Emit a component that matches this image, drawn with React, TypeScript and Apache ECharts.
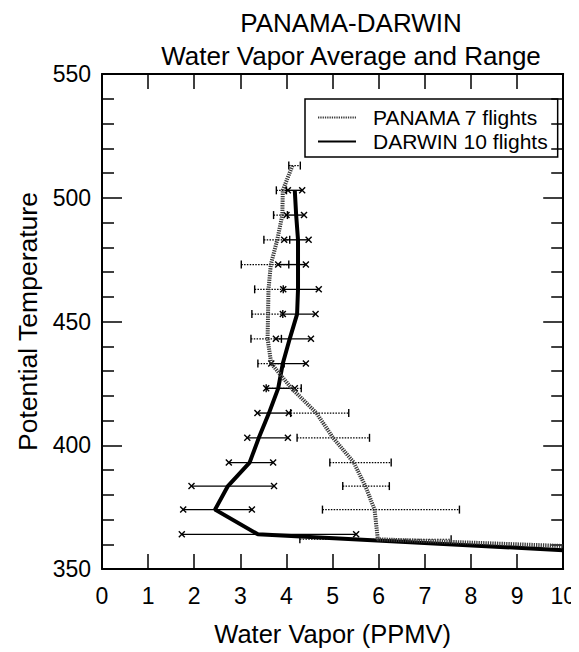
import React, { useEffect, useRef } from "react";
import * as echarts from "echarts";

const FONT = "Liberation Sans, Arial, Helvetica, sans-serif";

// Axis setup
const xTicks = [0, 10];
const yRange = [350, 550];

// DARWIN (10 flights): potential temperature levels, mean, min, max water vapor (ppmv)
const thetaDarwin = [503, 493, 483, 473, 463, 453, 443, 433, 423, 413, 403, 393, 383.5, 374, 364, 357.6];
const darwinMean = [4.18, 4.21, 4.25, 4.25, 4.25, 4.23, 4.07, 3.92, 3.82, 3.62, 3.4, 3.2, 2.73, 2.45, 3.38, 10];
const darwinLow = [4.03, 4.0, 3.95, 3.82, 3.93, 3.92, 3.77, 3.67, 3.56, 3.37, 3.15, 2.75, 1.94, 1.76, 1.73];
const darwinHigh = [4.34, 4.38, 4.48, 4.42, 4.7, 4.63, 4.53, 4.42, 4.18, 4.05, 4.03, 3.71, 3.73, 3.25, 5.51];

// PANAMA (7 flights)
const thetaPanama = [513, 503, 493, 483, 473, 463, 453, 443, 433, 423, 413, 403, 393, 383.5, 374, 362, 359.3];
const panamaMean = [4.13, 3.92, 3.91, 3.8, 3.66, 3.61, 3.6, 3.59, 3.67, 4.11, 4.65, 5.01, 5.46, 5.71, 5.91, 5.98, 10];
const panamaLow = [4.05, 3.78, 3.72, 3.51, 3.02, 3.31, 3.25, 3.23, 3.38, 3.56, 4.09, 4.23, 4.94, 5.22, 4.78, 4.29];
const panamaHigh = [4.3, 4.0, 4.02, 4.07, 4.05, 3.93, 3.92, 3.89, 3.95, 4.32, 5.35, 5.8, 6.27, 6.23, 7.75, 7.57];

const PANAMA = "PANAMA 7 flights";
const DARWIN = "DARWIN 10 flights";

function makeBarRenderer(kind: "darwin" | "panama") {
  return (params: any, api: any) => {
    const lo = api.coord([api.value(0), api.value(2)]);
    const hi = api.coord([api.value(1), api.value(2)]);
    const children: any[] = [
      {
        type: "line",
        shape: { x1: lo[0], y1: lo[1], x2: hi[0], y2: hi[1] },
        style: {
          stroke: "#000",
          lineWidth: kind === "darwin" ? 1.4 : 1.1,
          lineDash: kind === "darwin" ? null : [1.5, 1.3],
        },
      },
    ];
    [lo, hi].forEach((p) => {
      if (kind === "darwin") {
        const s = 3;
        children.push({
          type: "line",
          shape: { x1: p[0] - s, y1: p[1] - s, x2: p[0] + s, y2: p[1] + s },
          style: { stroke: "#000", lineWidth: 1.4 },
        });
        children.push({
          type: "line",
          shape: { x1: p[0] - s, y1: p[1] + s, x2: p[0] + s, y2: p[1] - s },
          style: { stroke: "#000", lineWidth: 1.4 },
        });
      } else {
        children.push({
          type: "line",
          shape: { x1: p[0], y1: p[1] - 4, x2: p[0], y2: p[1] + 4 },
          style: { stroke: "#000", lineWidth: 1.4 },
        });
      }
    });
    return { type: "group", children };
  };
}

export default function App() {
  const ref = useRef<HTMLDivElement>(null);

  useEffect(() => {
    if (!ref.current) return;
    const chart = echarts.init(ref.current, undefined, { renderer: "svg" });

    const darwinLine = thetaDarwin.map((t, i) => [darwinMean[i], t]);
    const panamaLine = thetaPanama.map((t, i) => [panamaMean[i], t]);
    const darwinBars = darwinLow.map((lo, i) => [lo, darwinHigh[i], thetaDarwin[i]]);
    const panamaBars = panamaLow.map((lo, i) => [lo, panamaHigh[i], thetaPanama[i]]);

    const axisLine = { show: true, onZero: false, lineStyle: { color: "#000", width: 2 } };
    const tickStyle = { color: "#000", width: 1.5 };

    const option: any = {
      animation: false,
      backgroundColor: "#fff",
      title: {
        text: "PANAMA-DARWIN\nWater Vapor Average and Range",
        left: 351,
        top: 6,
        padding: 0,
        textAlign: "center",
        textStyle: {
          fontFamily: FONT,
          fontSize: 26,
          fontWeight: "normal",
          color: "#000",
          lineHeight: 33,
        },
      },
      legend: {
        data: [PANAMA, DARWIN],
        orient: "vertical",
        left: 305,
        top: 99,
        padding: [8, 10, 5, 12],
        itemGap: 3,
        itemWidth: 38,
        itemHeight: 14,
        borderColor: "#000",
        borderWidth: 1.5,
        selectedMode: false,
        itemStyle: { color: "rgba(0,0,0,0)", borderColor: "rgba(0,0,0,0)", borderWidth: 0, opacity: 0 },
        textStyle: {
          fontFamily: FONT,
          fontSize: 21,
          color: "#000",
          padding: [0, 0, 0, 12],
        },
      },
      grid: { left: 102, right: 14, top: 74, bottom: 81, containLabel: false },
      xAxis: [
        {
          type: "value",
          min: xTicks[0],
          max: xTicks[1],
          interval: 1,
          position: "bottom",
          axisLine,
          axisTick: { show: true, inside: true, length: 15, lineStyle: tickStyle },
          axisLabel: { margin: 15, fontSize: 23, color: "#000", fontFamily: FONT },
          splitLine: { show: false },
          name: "Water Vapor (PPMV)",
          nameLocation: "middle",
          nameGap: 52,
          nameTextStyle: { fontSize: 25.5, color: "#000", fontFamily: FONT },
        },
        {
          type: "value",
          min: xTicks[0],
          max: xTicks[1],
          interval: 1,
          position: "top",
          axisLine,
          axisTick: { show: true, inside: true, length: 15, lineStyle: tickStyle },
          axisLabel: { show: false },
          splitLine: { show: false },
        },
      ],
      yAxis: [
        {
          type: "value",
          min: yRange[0],
          max: yRange[1],
          interval: 50,
          position: "left",
          axisLine,
          axisTick: { show: true, inside: true, length: 20, lineStyle: tickStyle },
          minorTick: { show: true, splitNumber: 5, length: 12, lineStyle: tickStyle },
          axisLabel: { margin: 11, fontSize: 23, color: "#000", fontFamily: FONT },
          splitLine: { show: false },
          name: "Potential Temperature",
          nameLocation: "middle",
          nameGap: 60,
          nameTextStyle: { fontSize: 26.5, color: "#000", fontFamily: FONT },
        },
        {
          type: "value",
          min: yRange[0],
          max: yRange[1],
          interval: 50,
          position: "right",
          axisLine,
          axisTick: { show: true, inside: true, length: 20, lineStyle: tickStyle },
          minorTick: { show: true, splitNumber: 5, length: 12, lineStyle: tickStyle },
          axisLabel: { show: false },
          splitLine: { show: false },
        },
      ],
      series: [
        {
          name: "panama-range",
          type: "custom",
          xAxisIndex: 0,
          yAxisIndex: 0,
          renderItem: makeBarRenderer("panama"),
          encode: { x: [0, 1], y: 2 },
          data: panamaBars,
          z: 2,
          clip: true,
        },
        {
          name: "darwin-range",
          type: "custom",
          xAxisIndex: 0,
          yAxisIndex: 0,
          renderItem: makeBarRenderer("darwin"),
          encode: { x: [0, 1], y: 2 },
          data: darwinBars,
          z: 2,
          clip: true,
        },
        {
          name: DARWIN,
          type: "line",
          xAxisIndex: 0,
          yAxisIndex: 0,
          data: darwinLine,
          symbol: "none",
          clip: true,
          color: "#000",
          lineStyle: { color: "#000", width: 4 },
          z: 3,
        },
        {
          name: PANAMA,
          type: "line",
          xAxisIndex: 0,
          yAxisIndex: 0,
          data: panamaLine,
          symbol: "none",
          clip: true,
          color: "#444",
          lineStyle: { color: "#3a3a3a", width: 4, type: [1.3, 1] },
          z: 4,
        },
      ],
    };

    chart.setOption(option);
    return () => chart.dispose();
  }, []);

  return <div ref={ref} style={{ width: 579, height: 652, marginLeft: -8, marginTop: -8 }} />;
}
